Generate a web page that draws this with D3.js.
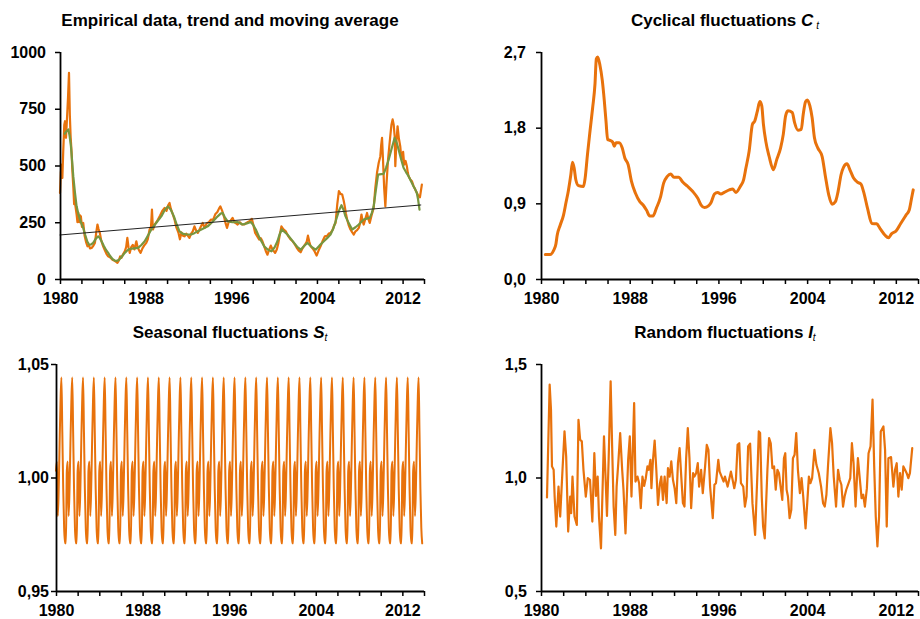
<!DOCTYPE html>
<html>
<head>
<meta charset="utf-8">
<script src="https://cdn.jsdelivr.net/npm/d3@7"></script>
<style>
  html, body { margin: 0; padding: 0; background: #fff; }
  svg { display: block; }
  text { font-family: "Liberation Sans", Arial, sans-serif; font-weight: bold; fill: #000; }
</style>
</head>
<body>
<svg id="chart" width="920" height="619"></svg>
<script>
// ---- Data ---------------------------------------------------------------

// Monthly observations [year, value]
const empirical = [
  [1980.00, 379], [1980.08, 470], [1980.16, 504], [1980.22, 445], [1980.30, 560], [1980.40, 680],
  [1980.47, 695], [1980.56, 622], [1980.65, 703], [1980.75, 800], [1980.84, 908], [1980.92, 720],
  [1980.99, 630], [1981.08, 560], [1981.15, 482], [1981.25, 400], [1981.32, 330], [1981.40, 335],
  [1981.55, 285], [1981.63, 250], [1981.71, 291], [1981.80, 250], [1981.88, 280], [1981.95, 276],
  [1982.05, 230], [1982.17, 247], [1982.30, 190], [1982.45, 160], [1982.57, 144], [1982.70, 150],
  [1982.80, 135], [1982.95, 137], [1983.10, 145], [1983.26, 159], [1983.40, 210], [1983.50, 240],
  [1983.60, 220], [1983.72, 203], [1983.85, 170], [1984.03, 144], [1984.20, 125], [1984.35, 110],
  [1984.50, 100], [1984.70, 95], [1984.90, 85], [1985.10, 80], [1985.25, 75], [1985.36, 71],
  [1985.50, 82], [1985.62, 100], [1985.74, 93], [1985.90, 110], [1986.05, 122], [1986.18, 140],
  [1986.29, 181], [1986.40, 140], [1986.51, 115], [1986.65, 140], [1986.80, 150], [1986.95, 130],
  [1987.13, 166], [1987.25, 140], [1987.40, 125], [1987.53, 115], [1987.70, 135], [1987.90, 150],
  [1988.06, 159], [1988.20, 175], [1988.37, 218], [1988.50, 230], [1988.59, 306], [1988.68, 218],
  [1988.85, 240], [1989.00, 250], [1989.15, 262], [1989.35, 280], [1989.55, 300], [1989.77, 313],
  [1989.95, 300], [1990.10, 325], [1990.23, 335], [1990.35, 310], [1990.50, 290], [1990.70, 262],
  [1990.85, 230], [1991.07, 203], [1991.20, 175], [1991.35, 205], [1991.50, 190], [1991.63, 188],
  [1991.80, 200], [1991.95, 190], [1992.09, 181], [1992.25, 200], [1992.40, 210], [1992.56, 232],
  [1992.70, 215], [1992.87, 203], [1993.00, 215], [1993.15, 230], [1993.33, 247], [1993.50, 225],
  [1993.70, 245], [1993.90, 250], [1994.11, 262], [1994.30, 260], [1994.50, 285], [1994.70, 295],
  [1994.85, 310], [1994.98, 320], [1995.15, 300], [1995.35, 269], [1995.47, 245], [1995.60, 225],
  [1995.75, 250], [1995.90, 255], [1996.12, 269], [1996.30, 250], [1996.45, 245], [1996.59, 240],
  [1996.80, 250], [1997.00, 240], [1997.21, 240], [1997.35, 245], [1997.52, 250], [1997.70, 255],
  [1997.92, 265], [1998.05, 240], [1998.23, 203], [1998.40, 190], [1998.60, 174], [1998.75, 180],
  [1998.91, 166], [1999.10, 140], [1999.25, 120], [1999.38, 107], [1999.50, 125], [1999.69, 147],
  [1999.85, 130], [2000.09, 115], [2000.25, 130], [2000.40, 159], [2000.55, 200], [2000.68, 232],
  [2000.85, 220], [2001.09, 210], [2001.30, 190], [2001.55, 174], [2001.75, 165], [2001.95, 151],
  [2002.15, 135], [2002.30, 125], [2002.48, 118], [2002.65, 135], [2002.88, 151], [2003.05, 165],
  [2003.16, 191], [2003.28, 165], [2003.41, 144], [2003.60, 135], [2003.80, 120], [2003.97, 103],
  [2004.15, 125], [2004.34, 144], [2004.55, 170], [2004.74, 188], [2004.95, 190], [2005.10, 200],
  [2005.27, 203], [2005.45, 215], [2005.60, 235], [2005.74, 247], [2005.90, 330], [2006.05, 387],
  [2006.20, 375], [2006.36, 372], [2006.50, 345], [2006.60, 320], [2006.70, 290], [2006.82, 262],
  [2006.98, 235], [2007.13, 218], [2007.30, 205], [2007.44, 196], [2007.60, 210], [2007.75, 215],
  [2007.91, 225], [2008.05, 250], [2008.16, 284], [2008.26, 255], [2008.37, 240], [2008.52, 265],
  [2008.68, 291], [2008.80, 265], [2008.93, 247], [2009.10, 280], [2009.30, 313], [2009.45, 400],
  [2009.61, 468], [2009.77, 512], [2009.92, 540], [2010.00, 590], [2010.08, 622], [2010.17, 526],
  [2010.28, 400], [2010.39, 320], [2010.50, 420], [2010.64, 526], [2010.75, 580], [2010.85, 629],
  [2010.96, 680], [2011.07, 703], [2011.17, 680], [2011.26, 629], [2011.32, 497], [2011.42, 600],
  [2011.53, 673], [2011.65, 620], [2011.78, 585], [2011.86, 545], [2011.94, 526], [2012.05, 560],
  [2012.15, 504], [2012.28, 520], [2012.40, 497], [2012.48, 470], [2012.56, 453], [2012.70, 440],
  [2012.87, 431], [2013.02, 410], [2013.18, 394], [2013.33, 380], [2013.49, 365], [2013.62, 360],
  [2013.80, 416]
];

// Centred 12-month moving average [year, value]
const movingAverage = [
  [1980.45, 640], [1980.62, 651], [1980.78, 659], [1980.90, 630], [1981.02, 585], [1981.13, 520],
  [1981.24, 453], [1981.40, 380], [1981.55, 320], [1981.75, 280], [1981.95, 250], [1982.17, 225],
  [1982.35, 195], [1982.55, 165], [1982.73, 151], [1982.90, 152], [1983.10, 159], [1983.35, 178],
  [1983.57, 188], [1983.72, 180], [1983.88, 166], [1984.10, 145], [1984.30, 128], [1984.50, 115],
  [1984.70, 100], [1984.90, 88], [1985.12, 81], [1985.32, 80], [1985.52, 85], [1985.80, 100],
  [1986.05, 115], [1986.28, 126], [1986.51, 132], [1986.90, 135], [1987.29, 137], [1987.60, 150],
  [1987.91, 166], [1988.20, 190], [1988.53, 218], [1989.00, 248], [1989.46, 276], [1989.80, 305],
  [1990.08, 320], [1990.35, 305], [1990.64, 276], [1990.90, 240], [1991.16, 210], [1991.45, 200],
  [1991.78, 196], [1992.25, 196], [1992.55, 202], [1992.87, 210], [1993.30, 220], [1993.80, 232],
  [1994.25, 252], [1994.73, 276], [1995.00, 288], [1995.19, 291], [1995.40, 272], [1995.66, 254],
  [1996.10, 250], [1996.59, 251], [1997.05, 240], [1997.45, 245], [1997.83, 251], [1998.05, 238],
  [1998.29, 218], [1998.65, 180], [1999.07, 144], [1999.40, 130], [1999.75, 122], [2000.05, 140],
  [2000.31, 166], [2000.50, 195], [2000.71, 218], [2000.95, 208], [2001.24, 196], [2001.55, 178],
  [2001.86, 159], [2002.15, 142], [2002.48, 129], [2002.80, 145], [2003.10, 159], [2003.50, 142],
  [2003.88, 129], [2004.25, 148], [2004.65, 166], [2004.95, 180], [2005.27, 196], [2005.55, 225],
  [2005.80, 262], [2006.05, 300], [2006.29, 325], [2006.48, 305], [2006.67, 276], [2006.98, 245],
  [2007.29, 218], [2007.60, 228], [2007.91, 240], [2008.15, 252], [2008.37, 262], [2008.65, 266],
  [2008.93, 269], [2009.12, 290], [2009.30, 320], [2009.50, 390], [2009.71, 460], [2010.00, 462],
  [2010.23, 463], [2010.45, 490], [2010.70, 526], [2010.98, 575], [2011.26, 622], [2011.45, 600],
  [2011.63, 570], [2011.85, 530], [2012.09, 490], [2012.33, 470], [2012.56, 453], [2012.80, 430],
  [2013.02, 409], [2013.18, 395], [2013.33, 379], [2013.45, 350], [2013.58, 306]
];

// Linear trend, start and end [year, value]
const trend = [[1980.0, 194], [2013.7, 326]];

// Cyclical component C_t [year, value]
const cyclical = [
  [1980.39, 0.29], [1980.84, 0.29], [1981.14, 0.34], [1981.35, 0.42], [1981.46, 0.52], [1981.73, 0.64],
  [1982.03, 0.76], [1982.24, 0.90], [1982.48, 1.06], [1982.69, 1.24], [1982.84, 1.39], [1982.99, 1.32],
  [1983.14, 1.18], [1983.38, 1.11], [1983.83, 1.10], [1983.98, 1.20], [1984.19, 1.48], [1984.42, 1.76],
  [1984.66, 2.04], [1984.87, 2.32], [1984.99, 2.62], [1985.11, 2.64], [1985.32, 2.54], [1985.53, 2.36],
  [1985.71, 2.12], [1985.86, 1.88], [1986.01, 1.66], [1986.22, 1.65], [1986.46, 1.63], [1986.61, 1.58],
  [1986.76, 1.62], [1987.06, 1.62], [1987.32, 1.56], [1987.56, 1.44], [1987.86, 1.36], [1988.16, 1.16],
  [1988.52, 1.02], [1988.91, 0.92], [1989.21, 0.88], [1989.51, 0.82], [1989.81, 0.75], [1990.10, 0.75],
  [1990.40, 0.84], [1990.79, 0.98], [1991.06, 1.14], [1991.39, 1.22], [1991.69, 1.25], [1991.99, 1.21],
  [1992.41, 1.21], [1992.80, 1.15], [1993.24, 1.10], [1993.69, 1.04], [1994.14, 0.96], [1994.44, 0.88],
  [1994.74, 0.85], [1995.10, 0.87], [1995.34, 0.91], [1995.64, 1.01], [1995.93, 1.03], [1996.23, 1.01],
  [1996.53, 1.03], [1996.98, 1.06], [1997.28, 1.07], [1997.58, 1.03], [1997.97, 1.10], [1998.27, 1.18],
  [1998.48, 1.32], [1998.77, 1.52], [1999.07, 1.84], [1999.28, 1.88], [1999.52, 2.00], [1999.73, 2.11],
  [1999.91, 2.06], [2000.06, 1.84], [2000.27, 1.64], [2000.57, 1.46], [2000.96, 1.30], [2001.26, 1.42],
  [2001.61, 1.56], [2001.85, 1.72], [2002.06, 1.94], [2002.27, 2.00], [2002.66, 1.98], [2002.87, 1.86],
  [2003.17, 1.77], [2003.47, 1.78], [2003.65, 1.96], [2003.86, 2.11], [2004.01, 2.13], [2004.25, 2.06],
  [2004.45, 1.92], [2004.66, 1.68], [2004.96, 1.56], [2005.35, 1.46], [2005.65, 1.22], [2005.95, 1.00],
  [2006.25, 0.89], [2006.55, 0.92], [2006.79, 1.04], [2007.06, 1.24], [2007.29, 1.33], [2007.59, 1.37],
  [2007.89, 1.29], [2008.19, 1.20], [2008.55, 1.15], [2008.85, 1.13], [2009.09, 1.04], [2009.45, 0.84],
  [2009.84, 0.66], [2010.28, 0.656], [2010.58, 0.60], [2011.03, 0.52], [2011.33, 0.49], [2011.63, 0.54],
  [2012.02, 0.57], [2012.44, 0.66], [2012.92, 0.76], [2013.21, 0.82], [2013.42, 0.96], [2013.57, 1.06]
];

// Seasonal indices S_t, January to December
const seasonalIndex = [1.003, 1.007, 0.983, 0.995, 1.015, 1.033, 1.044, 1.020, 0.995, 0.978, 0.971, 0.971];
const seasonalStart = 1980;     // first month: January 1980
const seasonalMonths = 407;     // through November 2013

// Irregular component I_t [year, value]
const irregular = [
  [1980.54, 0.912], [1980.78, 1.409], [1980.90, 1.299], [1980.99, 1.049], [1981.14, 1.034], [1981.23, 0.916],
  [1981.38, 0.784], [1981.58, 0.960], [1981.73, 0.828], [1981.94, 1.034], [1982.12, 1.203], [1982.27, 1.093],
  [1982.45, 0.762], [1982.63, 0.916], [1982.72, 0.843], [1982.84, 1.004], [1983.02, 0.828], [1983.23, 0.791],
  [1983.38, 1.254], [1983.53, 1.166], [1983.68, 1.159], [1983.83, 1.034], [1984.04, 0.916], [1984.22, 0.997],
  [1984.42, 0.990], [1984.63, 0.806], [1984.81, 1.107], [1984.96, 0.919], [1985.11, 1.004], [1985.23, 0.828],
  [1985.41, 0.688], [1985.68, 1.181], [1985.83, 0.990], [1985.95, 0.831], [1986.10, 1.078], [1986.28, 1.424],
  [1986.43, 1.107], [1986.55, 0.872], [1986.70, 0.747], [1986.82, 0.960], [1986.97, 1.063], [1987.14, 1.196],
  [1987.32, 1.034], [1987.44, 0.946], [1987.62, 0.754], [1987.86, 1.078], [1988.01, 1.181], [1988.16, 0.916],
  [1988.40, 1.328], [1988.52, 0.982], [1988.70, 1.004], [1988.85, 0.975], [1989.00, 0.865], [1989.15, 1.004],
  [1989.30, 0.963], [1989.45, 0.997], [1989.60, 1.049], [1989.72, 1.034], [1989.87, 1.078], [1989.96, 0.953],
  [1990.10, 1.078], [1990.25, 1.163], [1990.40, 1.034], [1990.55, 0.879], [1990.73, 0.975], [1990.85, 1.004],
  [1991.00, 0.901], [1991.15, 1.004], [1991.33, 0.887], [1991.45, 1.041], [1991.60, 1.004], [1991.75, 1.071],
  [1991.90, 0.990], [1992.05, 0.953], [1992.20, 0.887], [1992.35, 1.063], [1992.50, 1.129], [1992.65, 1.004],
  [1992.80, 0.887], [1992.94, 0.872], [1993.09, 1.085], [1993.24, 1.218], [1993.39, 1.085], [1993.54, 0.865],
  [1993.72, 1.019], [1993.84, 1.004], [1993.99, 1.019], [1994.14, 1.063], [1994.26, 0.960], [1994.44, 1.034],
  [1994.59, 0.931], [1994.80, 1.049], [1994.95, 1.144], [1995.10, 1.122], [1995.25, 0.960], [1995.49, 0.821],
  [1995.64, 0.968], [1995.78, 0.975], [1995.99, 1.078], [1996.11, 1.026], [1996.29, 1.004], [1996.47, 0.982],
  [1996.59, 1.004], [1996.83, 0.960], [1997.13, 1.026], [1997.28, 0.990], [1997.43, 0.953], [1997.58, 0.990],
  [1997.73, 1.144], [1997.88, 1.151], [1998.03, 0.975], [1998.24, 0.960], [1998.39, 0.872], [1998.54, 0.916],
  [1998.68, 1.137], [1998.86, 1.149], [1999.07, 0.887], [1999.31, 0.747], [1999.53, 1.034], [1999.64, 1.203],
  [1999.76, 1.196], [1999.91, 0.916], [2000.03, 0.784], [2000.18, 0.732], [2000.42, 1.034], [2000.57, 1.174],
  [2000.72, 1.151], [2000.87, 1.041], [2001.02, 1.049], [2001.17, 0.946], [2001.32, 1.034], [2001.46, 1.019],
  [2001.61, 0.960], [2001.76, 0.901], [2001.91, 1.085], [2002.03, 1.107], [2002.15, 0.946], [2002.27, 0.916],
  [2002.42, 0.821], [2002.57, 0.857], [2002.72, 1.085], [2002.87, 1.100], [2003.02, 1.196], [2003.17, 1.034],
  [2003.35, 0.931], [2003.50, 0.997], [2003.65, 0.916], [2003.86, 0.776], [2004.01, 0.887], [2004.16, 1.004],
  [2004.30, 0.975], [2004.45, 0.997], [2004.66, 1.122], [2004.84, 1.056], [2005.05, 1.019], [2005.26, 0.960],
  [2005.44, 0.887], [2005.59, 0.872], [2005.74, 0.924], [2005.89, 1.056], [2006.10, 1.218], [2006.25, 1.151],
  [2006.40, 1.004], [2006.61, 0.872], [2006.79, 1.034], [2006.94, 0.990], [2007.09, 0.968], [2007.24, 0.872],
  [2007.38, 0.916], [2007.53, 0.946], [2007.74, 0.975], [2007.89, 0.997], [2008.04, 1.151], [2008.19, 1.063],
  [2008.37, 0.872], [2008.58, 1.085], [2008.76, 0.990], [2008.91, 0.909], [2009.06, 0.924], [2009.21, 0.872],
  [2009.39, 0.953], [2009.54, 1.107], [2009.72, 1.137], [2009.90, 1.343], [2010.05, 1.049], [2010.19, 0.828],
  [2010.34, 0.696], [2010.49, 0.828], [2010.64, 1.203], [2010.88, 1.225], [2011.03, 1.122], [2011.18, 0.784],
  [2011.33, 1.085], [2011.57, 1.090], [2011.78, 0.960], [2011.93, 1.034], [2012.08, 1.063], [2012.23, 0.916],
  [2012.38, 1.019], [2012.53, 0.946], [2012.68, 1.049], [2012.83, 1.034], [2012.98, 1.019], [2013.13, 0.997],
  [2013.27, 1.019], [2013.48, 1.129]
];

// Axis ticks and labels
const yearDomain = [1980, 2014];
const xTickYears = [1980, 1982, 1984, 1986, 1988, 1990, 1992, 1994, 1996, 1998, 2000, 2002, 2004, 2006, 2008, 2010, 2012, 2014];
const xLabelYears = [1980, 1988, 1996, 2004, 2012];
const yTicksEmpirical = [0, 250, 500, 750, 1000];
const yLabelsEmpirical = ["0", "250", "500", "750", "1000"];
const yTicksCyclical = [0, 0.9, 1.8, 2.7];
const yLabelsCyclical = ["0,0", "0,9", "1,8", "2,7"];
const yTicksSeasonal = [0.95, 1.00, 1.05];
const yLabelsSeasonal = ["0,95", "1,00", "1,05"];
const yTicksIrregular = [0.5, 1.0, 1.5];
const yLabelsIrregular = ["0,5", "1,0", "1,5"];

// ---- Drawing ------------------------------------------------------------

const ORANGE = "#E8720C";
const GREEN = "#77963F";
const svg = d3.select("#chart");

function panel(cfg) {
  const g = svg.append("g");
  const x = d3.scaleLinear().domain(yearDomain).range([cfg.left, cfg.right]);
  const y = d3.scaleLinear().domain(cfg.yDomain).range([cfg.bottom, cfg.top]);

  // title with italic symbol and subscript
  const t = g.append("text")
    .attr("x", cfg.titleX).attr("y", cfg.titleY)
    .attr("text-anchor", "middle")
    .style("font-size", "17px");
  t.append("tspan").text(cfg.title);
  if (cfg.symbol) {
    t.append("tspan").style("font-style", "italic").text(cfg.symbol);
    t.append("tspan").style("font-style", "italic").style("font-weight", "normal")
      .style("font-size", "10px").attr("dx", cfg.subGap || 0).attr("dy", 3).text("t");
  }

  // series
  cfg.series.forEach(s => {
    const line = d3.line().x(d => x(d[0])).y(d => y(d[1])).curve(s.curve || d3.curveLinear);
    g.append("path").datum(s.data)
      .attr("d", line)
      .attr("fill", "none")
      .attr("stroke", s.color)
      .attr("stroke-width", s.width)
      .attr("stroke-linejoin", "round")
      .attr("stroke-linecap", "round");
  });

  // y axis
  const ya = d3.axisLeft(y).tickValues(cfg.yTicks).tickSize(5).tickPadding(cfg.yPad)
    .tickFormat((d, i) => cfg.yLabels[i]);
  const yg = g.append("g").attr("transform", `translate(${cfg.left},0)`).call(ya);
  // x axis
  const xa = d3.axisBottom(x).tickValues(xTickYears).tickSize(5).tickPadding(9)
    .tickFormat(d => xLabelYears.includes(d) ? String(d) : "");
  const xg = g.append("g").attr("transform", `translate(0,${cfg.bottom})`).call(xa);

  [yg, xg].forEach(a => {
    a.select(".domain").attr("stroke", "#000").attr("stroke-width", 1.8);
    a.selectAll(".tick line").attr("stroke", "#000").attr("stroke-width", 1.5);
    a.selectAll(".tick text").style("font-size", "16px")
      .style("font-family", '"Liberation Sans", Arial, sans-serif')
      .style("font-weight", "bold").attr("fill", "#000");
  });
  // plain axis lines without end caps
  yg.select(".domain").attr("d", `M0.5,${cfg.top}V${cfg.bottom}`);
  xg.select(".domain").attr("d", `M${cfg.left},0.5H${cfg.right}`);
}

const seasonal = d3.range(seasonalMonths).map(i => [seasonalStart + i / 12, seasonalIndex[i % 12]]);

panel({
  left: 60, right: 424, top: 52, bottom: 279, yDomain: [0, 1000],
  yTicks: yTicksEmpirical, yLabels: yLabelsEmpirical, yPad: 9,
  title: "Empirical data, trend and moving average", titleX: 230, titleY: 26,
  series: [
    { data: empirical, color: ORANGE, width: 2.2 },
    { data: movingAverage, color: GREEN, width: 2.2 },
    { data: trend, color: "#222", width: 1 }
  ]
});

panel({
  left: 541, right: 918, top: 52, bottom: 279, yDomain: [0, 2.7],
  yTicks: yTicksCyclical, yLabels: yLabelsCyclical, yPad: 10,
  title: "Cyclical fluctuations ", symbol: "C", subGap: 3, titleX: 725, titleY: 26,
  series: [{ data: cyclical, color: ORANGE, width: 3, curve: d3.curveMonotoneX }]
});

panel({
  left: 56, right: 424, top: 364, bottom: 591, yDomain: [0.95, 1.05],
  yTicks: yTicksSeasonal, yLabels: yLabelsSeasonal, yPad: 2,
  title: "Seasonal fluctuations ", symbol: "S", titleX: 230, titleY: 338,
  series: [{ data: seasonal, color: ORANGE, width: 2, curve: d3.curveMonotoneX }]
});

panel({
  left: 541, right: 918, top: 364, bottom: 591, yDomain: [0.5, 1.5],
  yTicks: yTicksIrregular, yLabels: yLabelsIrregular, yPad: 9,
  title: "Random fluctuations ", symbol: "I", titleX: 725, titleY: 338,
  series: [{ data: irregular, color: ORANGE, width: 2.2 }]
});
</script>
</body>
</html>
